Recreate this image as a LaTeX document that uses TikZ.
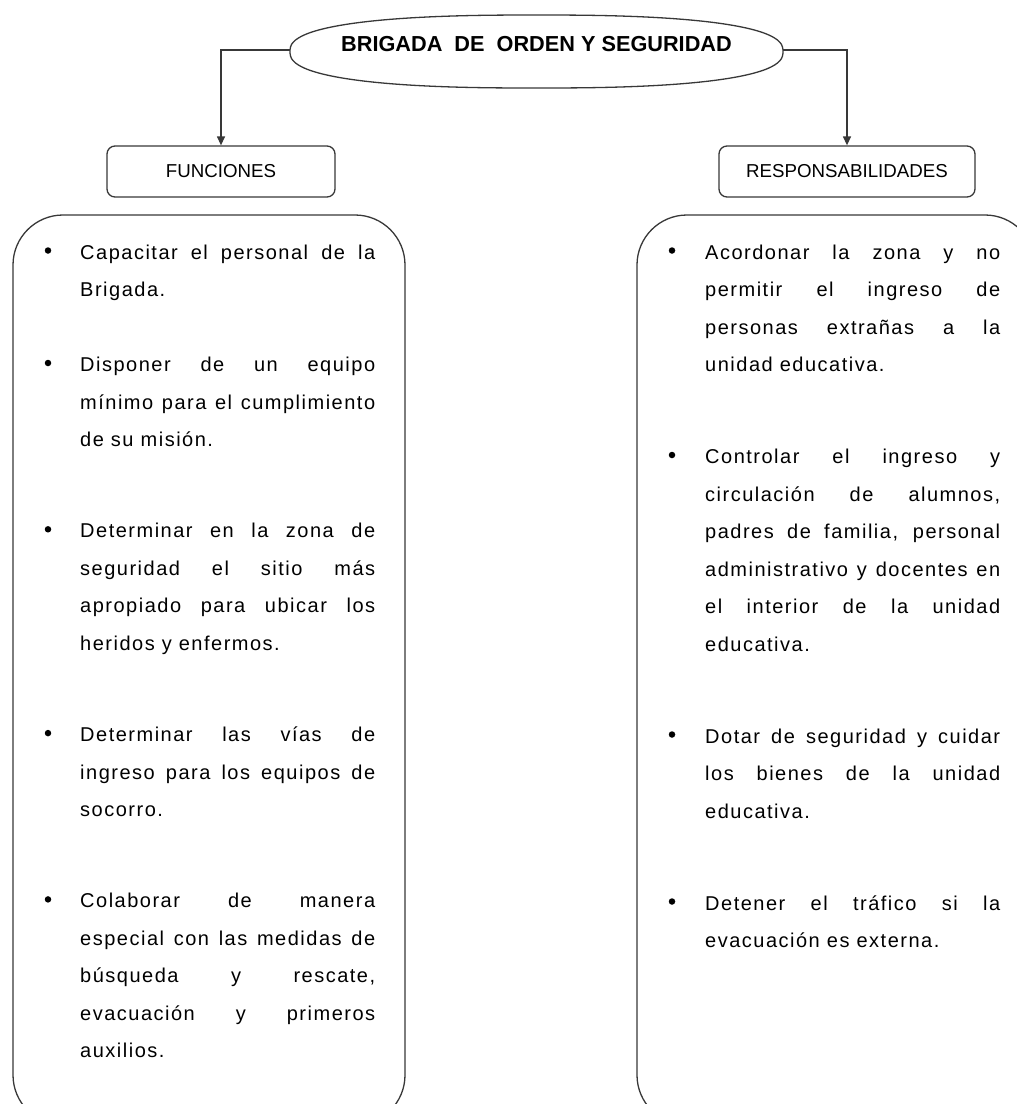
\documentclass[tikz,border=0pt]{standalone}
\usepackage{fontspec}
\setmainfont{Liberation Sans}
\newfontfamily\bodyfont[LetterSpace=7.5]{Liberation Sans}
\usetikzlibrary{arrows.meta,shapes.geometric}
\newcommand\bodytext{\bodyfont\fontsize{20pt}{24pt}\selectfont}
\tikzset{
  ln/.style={draw=black!78, line width=1.3pt},
  bigbox/.style={ln, rounded corners=50pt},
  labelbox/.style={ln, rounded corners=8pt, minimum height=51pt, inner sep=0pt,
     font=\fontsize{18.7pt}{22pt}\selectfont},
  titleshape/.style={ellipse, inner sep=0pt, minimum width=493pt, minimum height=73pt,
     text height=16pt, text depth=16pt, font=\fontsize{21.7pt}{26pt}\selectfont\bfseries},
  txt/.style={anchor=base west, inner sep=0pt, font=\bodytext},
  bul/.style={circle, fill=black, inner sep=0pt, minimum size=6.5pt},
  arr/.style={ln, -{Triangle[length=9pt,width=8pt]}},
}
% justified line
\newcommand\jl[4]{\node[txt] (#1) at (#2,#3) {\makebox[295pt][s]{#4}};}
% last (natural) line
\newcommand\nl[4]{\node[txt] (#1) at (#2,#3) {#4};}
% bullet, centred 8.5pt above the baseline
\newcommand\bl[3]{\node[bul] (#1) at (#2,#3-8.5) {};}
\begin{document}
\begin{tikzpicture}[x=1pt,y=-1pt]
\path[use as bounding box] (0,0) rectangle (1017,1104);
\clip (0,0) rectangle (1017,1104);

% title and labels
\node[titleshape] (title) at (536.5,51.5) {\makebox[0pt]{BRIGADA\ \ DE\ \ ORDEN Y SEGURIDAD}};
% flattened oval outline of the title
\draw[ln] plot[domain=1.5:361.5, samples=121, smooth]
  ({536.5+246.5*(cos(\x)>0?1:-1)*pow(abs(cos(\x)),0.8)},
   {51.5+36.5*(sin(\x)>0?1:-1)*pow(abs(sin(\x)),0.8)}) -- cycle;
\node[labelbox, minimum width=228pt] (fun) at (221,171.5) {FUNCIONES};
\node[labelbox, minimum width=256pt] (res) at (847,171.5) {RESPONSABILIDADES};

\draw[arr] (title.west |- 0,50) -| (fun.north);
\draw[arr] (title.east |- 0,50) -| (res.north);

% big boxes
\draw[bigbox] (13,215) rectangle (405,1125);
\draw[bigbox] (637,215) rectangle (1035,1125);

% left column
\bl{lb1}{48}{259}
\jl{l1a}{80}{259}{Capacitar el personal de la}
\nl{l1b}{80}{296.5}{Brigada.}
\bl{lb2}{48}{371.5}
\jl{l2a}{80}{371.5}{Disponer de un equipo}
\jl{l2b}{80}{409}{mínimo para el cumplimiento}
\nl{l2c}{80}{446.5}{de su misión.}
\bl{lb3}{48}{537.8}
\jl{l3a}{80}{537.8}{Determinar en la zona de}
\jl{l3b}{80}{575.3}{seguridad el sitio más}
\jl{l3c}{80}{612.8}{apropiado para ubicar los}
\nl{l3d}{80}{650.3}{heridos y enfermos.}
\bl{lb4}{48}{741.6}
\jl{l4a}{80}{741.6}{Determinar las vías de}
\jl{l4b}{80}{779.1}{ingreso para los equipos de}
\nl{l4c}{80}{816.6}{socorro.}
\bl{lb5}{48}{907.9}
\jl{l5a}{80}{907.9}{Colaborar de manera}
\jl{l5b}{80}{945.4}{especial con las medidas de}
\jl{l5c}{80}{982.9}{búsqueda y rescate,}
\jl{l5d}{80}{1020.4}{evacuación y primeros}
\nl{l5e}{80}{1057.9}{auxilios.}

% right column
\bl{rb1}{672}{259}
\jl{r1a}{705}{259}{Acordonar la zona y no}
\jl{r1b}{705}{296.5}{permitir el ingreso de}
\jl{r1c}{705}{334}{personas extrañas a la}
\nl{r1d}{705}{371.5}{unidad educativa.}
\bl{rb2}{672}{463.5}
\jl{r2a}{705}{463.5}{Controlar el ingreso y}
\jl{r2b}{705}{501}{circulación de alumnos,}
\jl{r2c}{705}{538.5}{padres de familia, personal}
\jl{r2d}{705}{576}{administrativo y docentes en}
\jl{r2e}{705}{613.5}{el interior de la unidad}
\nl{r2f}{705}{651}{educativa.}
\bl{rb3}{672}{743}
\jl{r3a}{705}{743}{Dotar de seguridad y cuidar}
\jl{r3b}{705}{780.5}{los bienes de la unidad}
\nl{r3c}{705}{818}{educativa.}
\bl{rb4}{672}{910}
\jl{r4a}{705}{910}{Detener el tráfico si la}
\nl{r4b}{705}{947.5}{evacuación es externa.}
\end{tikzpicture}
\end{document}
